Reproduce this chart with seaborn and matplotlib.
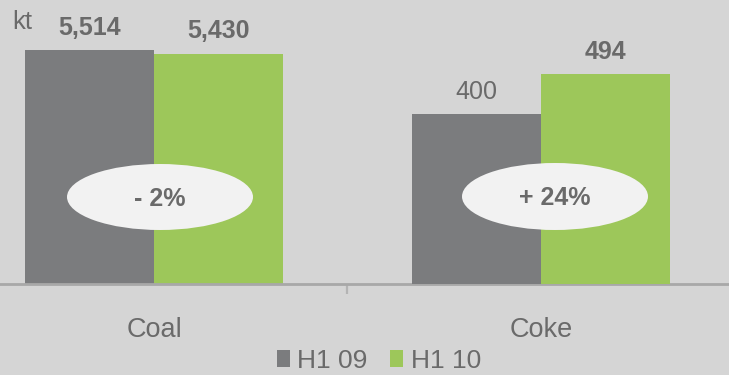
import matplotlib
matplotlib.use("Agg")
import matplotlib.pyplot as plt
import pandas as pd
import seaborn as sns
from matplotlib.patches import Ellipse, Patch

# --- data -------------------------------------------------------------
categories = ["Coal", "Coke"]
periods = ["H1 09", "H1 10"]
coal_kt = [5514, 5430]
coke_kt = [400, 494]
changes = ["- 2%", "+ 24%"]
unit = "kt"

# --- style ------------------------------------------------------------
BG = "#d5d5d5"
GREY = "#7b7c7e"
GREEN = "#9dc75a"
TEXT = "#6a6a6a"
AXIS = "#a8a8a8"
OVAL = "#f2f2f2"

sns.set_theme(style="white")
plt.rcParams["font.family"] = ["Liberation Sans", "DejaVu Sans"]

W, H, DPI = 729, 375, 100
fig = plt.figure(figsize=(W / DPI, H / DPI), dpi=DPI, facecolor=BG)


def fx(px):
    return px / W


def fy(py):
    return 1 - py / H


base_px = 283.5  # baseline of the bars, measured from the top edge
ax = fig.add_axes([0, fy(base_px), 1, base_px / H])
ax.set_facecolor(BG)
ax2 = ax.twinx()  # coke is drawn on its own (10x finer) scale

palette = dict(zip(periods, [GREY, GREEN]))
df_coal = pd.DataFrame({"category": "Coal", "period": periods, "kt": coal_kt})
df_coke = pd.DataFrame({"category": "Coke", "period": periods, "kt": coke_kt})

for a, d in ((ax, df_coal), (ax2, df_coke)):
    sns.barplot(data=d, x="category", y="kt", hue="period", order=categories,
                hue_order=periods, palette=palette, width=0.667, saturation=1,
                errorbar=None, legend=False, ax=a, linewidth=0)

ax.set_ylim(0, 6700)
ax2.set_ylim(0, 670)
ax.set_xlim(-0.398, 1.486)

# value labels above each bar
for a, vals, weights in ((ax, coal_kt, ["bold", "bold"]), (ax2, coke_kt, ["normal", "bold"])):
    bars = sorted(a.patches, key=lambda p: p.get_x())
    for p, v, wgt in zip(bars, vals, weights):
        a.annotate(f"{v:,}", xy=(p.get_x() + p.get_width() / 2, p.get_height()),
                   xytext=(0, 15.5), textcoords="offset pixels", ha="center",
                   va="baseline", fontsize=18, fontweight=wgt, color=TEXT)

# axes cosmetics
for a in (ax, ax2):
    a.set_xlabel("")
    a.set_ylabel("")
    a.set_yticks([])
    for s in a.spines.values():
        s.set_visible(False)
ax.spines["bottom"].set_visible(True)
ax.spines["bottom"].set_color(AXIS)
ax.spines["bottom"].set_linewidth(2.0)
ax.spines["bottom"].set_zorder(5)
ax.set_xticks([0.5], [""])
ax.tick_params(axis="x", bottom=True, length=7, width=1.6, color="#b4b4b4",
               direction="out", pad=0)

# category names under the axis
for i, c in enumerate(categories):
    ax.annotate(c, xy=(i, 0), xycoords=("data", "axes fraction"),
                xytext=(0, -(337 - base_px)), textcoords="offset pixels",
                ha="center", va="baseline", fontsize=19.5, color=TEXT,
                annotation_clip=False)

# change ovals
ovals = [((160, 197), 186, 66, 206.5), ((555, 196.5), 186, 67, 205)]
for (center, w, h, baseline), label in zip(ovals, changes):
    ax2.add_patch(Ellipse((fx(center[0]), fy(center[1])), w / W, h / H,
                          transform=fig.transFigure, facecolor=OVAL,
                          edgecolor="none", clip_on=False, zorder=10))
    ax2.text(fx(center[0]), fy(baseline), label, transform=fig.transFigure,
             ha="center", va="baseline", fontsize=18, fontweight="bold",
             color=TEXT, zorder=11)

# unit
fig.text(fx(12), fy(29), unit, ha="left", va="baseline", fontsize=18.5, color=TEXT)

# legend
handles = [Patch(facecolor=palette[p], edgecolor="none") for p in periods]
fig.legend(handles, periods, loc="center", bbox_to_anchor=(fx(379), fy(361)),
           bbox_transform=fig.transFigure, ncol=2, frameon=False, borderpad=0,
           handlelength=0.5, handleheight=0.58, handletextpad=0.27,
           columnspacing=0.85, prop={"size": 19}, labelcolor=TEXT)

fig.savefig("out.png", dpi=DPI, facecolor=BG)
